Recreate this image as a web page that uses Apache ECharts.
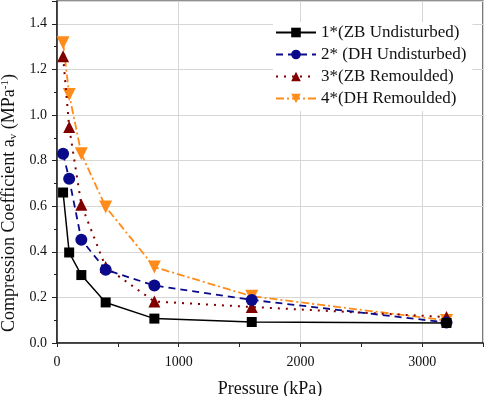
<!DOCTYPE html>
<html>
<head>
<meta charset="utf-8">
<script src="https://cdn.jsdelivr.net/npm/echarts@6/dist/echarts.min.js"></script>
<style>
  html, body { margin: 0; padding: 0; background: #fff; }
  #chart { width: 484px; height: 396px; }
</style>
</head>
<body>
<div id="chart"></div>
<script>
// pressure steps (kPa)
const pressure = [50, 100, 200, 400, 800, 1600, 3200];

// compression coefficient a_v (MPa^-1)
const zbUndisturbed = [0.66, 0.397, 0.298, 0.178, 0.107, 0.092, 0.088];
const dhUndisturbed = [0.83, 0.72, 0.453, 0.321, 0.252, 0.189, 0.09];
const zbRemoulded = [1.258, 0.947, 0.606, 0.333, 0.182, 0.158, 0.114];
const dhRemoulded = [1.317, 1.09, 0.83, 0.597, 0.333, 0.205, 0.099];

const seriesNames = ['1*(ZB Undisturbed)', '2* (DH Undisturbed)', '3*(ZB Remoulded)', '4*(DH Remoulded)'];

const font = '"Liberation Serif", "Times New Roman", serif';

const pairs = vals => pressure.map((p, i) => [p, vals[i]]);

const chart = echarts.init(document.getElementById('chart'), null, { renderer: 'canvas' });

const option = {
    animation: false,
    backgroundColor: '#fff',
    grid: {
        left: 57,
        right: 1,
        top: 1,
        bottom: 53,
        containLabel: false,
        outerBoundsMode: 'none',
        show: true,
        borderColor: '#222',
        borderWidth: 1.2
    },
    legend: {
        orient: 'vertical',
        left: 273,
        top: 22,
        itemWidth: 40,
        itemHeight: 12,
        itemGap: 5,
        padding: [2, 6, 4, 2],
        backgroundColor: '#fff',
        data: seriesNames,
        textStyle: { fontFamily: font, fontSize: 17, color: '#111' }
    },
    xAxis: {
        type: 'value',
        min: 0,
        max: 3500,
        interval: 1000,
        name: 'Pressure (kPa)',
        nameLocation: 'middle',
        nameGap: 37,
        nameTextStyle: { fontFamily: font, fontSize: 18, color: '#111' },
        axisLine: { lineStyle: { color: '#222', width: 1.5 } },
        axisTick: { inside: false, length: 4, lineStyle: { color: '#222' } },
        minorTick: { show: true, splitNumber: 2, length: 4, lineStyle: { color: '#222' } },
        axisLabel: {
            showMaxLabel: false,
            margin: 12,
            fontFamily: font,
            fontSize: 14,
            color: '#111',
            formatter: v => String(v)
        },
        splitLine: { show: true, lineStyle: { color: '#d6d6d6', width: 1 } }
    },
    yAxis: {
        type: 'value',
        min: 0,
        max: 1.5,
        interval: 0.2,
        name: 'Compression Coefficient a{sub|v} (MPa{sup|-1})',
        nameLocation: 'middle',
        nameRotate: 90,
        nameGap: 37,
        nameTextStyle: {
            fontFamily: font,
            fontSize: 18,
            color: '#111',
            padding: [0, 62, 0, 0],
            rich: {
                sub: { fontFamily: font, fontSize: 11, color: '#111', verticalAlign: 'bottom', padding: [6, 0, 0, 0] },
                sup: { fontFamily: font, fontSize: 11, color: '#111', verticalAlign: 'top', padding: [0, 0, 8, 0] }
            }
        },
        axisLine: { show: true, lineStyle: { color: '#222', width: 1.5 } },
        axisTick: { show: true, inside: false, length: 5, lineStyle: { color: '#222' } },
        minorTick: { show: true, splitNumber: 2, length: 3, lineStyle: { color: '#222' } },
        axisLabel: {
            showMaxLabel: false,
            margin: 10,
            fontFamily: font,
            fontSize: 14,
            color: '#111',
            formatter: v => v.toFixed(1)
        },
        splitLine: { show: true, lineStyle: { color: '#d6d6d6', width: 1 } }
    },
    series: [
        {
            name: seriesNames[0],
            type: 'line',
            data: pairs(zbUndisturbed),
            symbol: 'rect',
            symbolSize: 10,
            color: '#000',
            lineStyle: { color: '#000', width: 1.5, type: 'solid' },
            z: 4
        },
        {
            name: seriesNames[1],
            type: 'line',
            data: pairs(dhUndisturbed),
            symbol: 'circle',
            symbolSize: 12,
            color: '#0a0a8a',
            lineStyle: { color: '#0a0a8a', width: 1.8, type: [7, 5] },
            z: 3
        },
        {
            name: seriesNames[2],
            type: 'line',
            data: pairs(zbRemoulded),
            symbol: 'triangle',
            symbolSize: 12,
            color: '#800000',
            lineStyle: { color: '#800000', width: 2, type: [2, 6] },
            z: 2
        },
        {
            name: seriesNames[3],
            type: 'line',
            data: pairs(dhRemoulded),
            symbol: 'triangle',
            symbolRotate: 180,
            symbolSize: 13,
            color: '#ff8c1a',
            lineStyle: { color: '#ff8c1a', width: 1.8, type: [8, 3, 2, 3] },
            z: 1
        }
    ]
};

chart.setOption(option);
window.addEventListener('resize', chart.resize);
</script>
</body>
</html>
